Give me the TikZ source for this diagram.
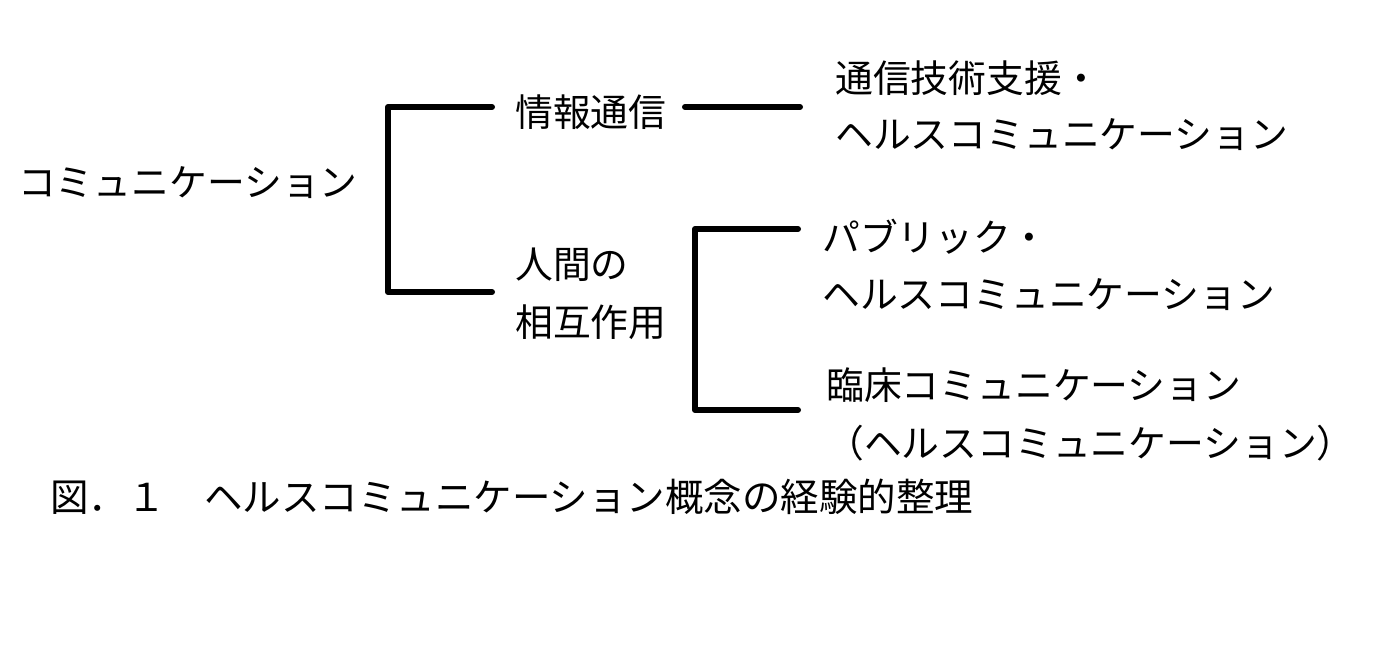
\documentclass[tikz,border=0pt]{standalone}
\usepackage{fontspec}
\setmainfont{Noto Sans CJK JP}
\begin{document}
\begin{tikzpicture}[x=1pt,y=-1pt,
  lbl/.style={anchor=west,inner sep=0pt,font=\fontsize{37.8}{44}\selectfont},
  br/.style={line width=6pt,line cap=round,line join=round}]
\useasboundingbox (0,0) rectangle (1376,647);
\node[lbl] (comm) at (18,183) {コミュニケーション};
\node[lbl] (joho) at (515,112) {情報通信};
\node[lbl] (tsushin1) at (835,78) {通信技術支援・};
\node[lbl] (tsushin2) at (835,135) {ヘルスコミュニケーション};
\node[lbl] (ningen1) at (515,265) {人間の};
\node[lbl] (ningen2) at (515,322) {相互作用};
\node[lbl] (pub1) at (822,237) {パブリック・};
\node[lbl] (pub2) at (822,295) {ヘルスコミュニケーション};
\node[lbl] (rin1) at (826,385) {臨床コミュニケーション};
\node[lbl] (rin2) at (826,443) {（ヘルスコミュニケーション）};
\node[lbl,font=\fontsize{38.5}{44}\selectfont] (cap) at (50,497) {図．１　ヘルスコミュニケーション概念の経験的整理};
\coordinate (a1) at (492,107); \coordinate (a2) at (492,292);
\coordinate (b1) at (685,107); \coordinate (b2) at (800,107);
\coordinate (c1) at (798,229); \coordinate (c2) at (798,410);
\draw[br] (a1) -- (388,107) -- (388,292) -- (a2);
\draw[br] (b1) -- (b2);
\draw[br] (c1) -- (695,229) -- (695,410) -- (c2);
\end{tikzpicture}
\end{document}
